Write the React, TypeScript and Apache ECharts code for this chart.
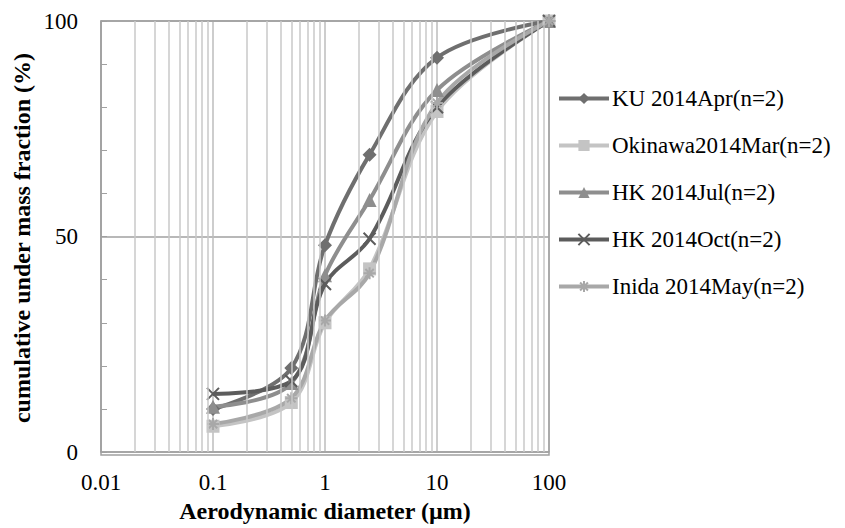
import React, { useEffect, useRef } from "react";
import * as echarts from "echarts";

const diameters = [0.1, 0.5, 1, 2.5, 10, 100];
const seriesNames = [
  "KU 2014Apr(n=2)",
  "Okinawa2014Mar(n=2)",
  "HK 2014Jul(n=2)",
  "HK 2014Oct(n=2)",
  "Inida 2014May(n=2)",
];
const kuApr = [10, 19.5, 48, 69, 91.5, 100];
const okinawaMar = [6, 11.5, 30, 42.5, 79, 100];
const hkJul = [10.5, 16, 41, 58.5, 84, 100];
const hkOct = [13.5, 16.5, 39, 49.5, 80, 100];
const inidaMay = [6.5, 12.5, 30.5, 41.5, 81, 100];
const minorGridX = [
  0.02, 0.03, 0.04, 0.05, 0.06, 0.07, 0.08, 0.09,
  0.2, 0.3, 0.4, 0.5, 0.6, 0.7, 0.8, 0.9,
  2, 3, 4, 5, 6, 7, 8, 9,
  20, 30, 40, 50, 60, 70, 80, 90,
];

const FONT = "'Liberation Serif', 'Times New Roman', serif";

export default function App() {
  const ref = useRef<HTMLDivElement>(null);
  useEffect(() => {
    if (!ref.current) return;
    const chart = echarts.init(ref.current, undefined, { renderer: "svg" });
    const values = [kuApr, okinawaMar, hkJul, hkOct, inidaMay];
    const colors = ["#6f6f6f", "#c4c4c4", "#8e8e8e", "#5c5c5c", "#a8a8a8"];
    const symbols = [
      "diamond",
      "rect",
      "triangle",
      "path://M0,0L10,10M10,0L0,10",
      "path://M5,0L5,10M0,5L10,5M1.5,1.5L8.5,8.5M8.5,1.5L1.5,8.5",
    ];
    const sizes = [14, 13, 14, 12, 12];
    const dataSeries = values.map((v, i) => ({
      name: seriesNames[i],
      type: "line",
      z: 3,
      smooth: 0.35,
      data: diameters.map((d, j) => [d, v[j]]),
      symbol: symbols[i],
      symbolSize: sizes[i],
      showSymbol: true,
      lineStyle: { color: colors[i], width: 4 },
      itemStyle: {
        color: colors[i],
        borderColor: colors[i],
        borderWidth: i >= 3 ? 2 : 0,
      },
    }));
    chart.setOption({
      animation: false,
      backgroundColor: "#ffffff",
      textStyle: { fontFamily: FONT },
      grid: { left: 101, top: 21, right: 296, bottom: 73, containLabel: false },
      legend: {
        orient: "vertical",
        left: 552,
        top: 82,
        itemWidth: 50,
        itemHeight: 14,
        itemGap: 24,
        lineStyle: { width: 4 },
        textStyle: { fontFamily: FONT, fontSize: 23, color: "#000", padding: [0, 0, 0, -2] },
        data: seriesNames,
      },
      xAxis: {
        type: "log",
        logBase: 10,
        min: 0.01,
        max: 100,
        name: "Aerodynamic diameter (µm)",
        nameLocation: "middle",
        nameGap: 42,
        nameTextStyle: { fontFamily: FONT, fontSize: 24, fontWeight: "bold", color: "#000" },
        axisLine: { show: true, lineStyle: { color: "#a0a0a0", width: 1.5 } },
        axisTick: { show: false },
        axisLabel: {
          fontFamily: FONT,
          fontSize: 23,
          color: "#000",
          margin: 19,
          formatter: (v: number) => String(v),
        },
        splitLine: { show: true, lineStyle: { color: "#bdbdbd", width: 1.5 } },
      },
      yAxis: {
        type: "value",
        min: 0,
        max: 100,
        interval: 50,
        axisLine: { show: true, lineStyle: { color: "#a0a0a0", width: 1.5 } },
        axisTick: { show: true, inside: true, length: 6, lineStyle: { color: "#a0a0a0" } },
        minorTick: { show: true, splitNumber: 5, length: 6, lineStyle: { color: "#a0a0a0" } },
        axisLabel: { fontFamily: FONT, fontSize: 23, color: "#000", margin: 23 },
        splitLine: { show: true, lineStyle: { color: "#a0a0a0", width: 1.5 } },
      },
      graphic: [
        {
          type: "rect",
          shape: { x: 101, y: 21, width: 448, height: 434 },
          style: { fill: "none", stroke: "#a0a0a0", lineWidth: 1.5 },
          z: 2,
          silent: true,
        },
        {
          type: "text",
          x: 22,
          y: 238,
          rotation: Math.PI / 2,
          style: {
            text: "cumulative under mass fraction (%)",
            fontFamily: FONT,
            fontSize: 24,
            fontWeight: "bold",
            fill: "#000",
            align: "center",
            verticalAlign: "middle",
          },
        },
      ],
      series: [
        {
          name: "grid-minor",
          type: "line",
          z: 1,
          data: [],
          silent: true,
          markLine: {
            silent: true,
            symbol: "none",
            label: { show: false },
            lineStyle: { color: "#c8c8c8", width: 1.5, type: "solid" },
            data: minorGridX.map((x) => ({ xAxis: x })),
          },
        },
        ...dataSeries,
      ],
    });
    return () => chart.dispose();
  }, []);
  return (
    <div
      ref={ref}
      style={{ position: "absolute", left: 0, top: 0, width: 845, height: 528 }}
    />
  );
}
